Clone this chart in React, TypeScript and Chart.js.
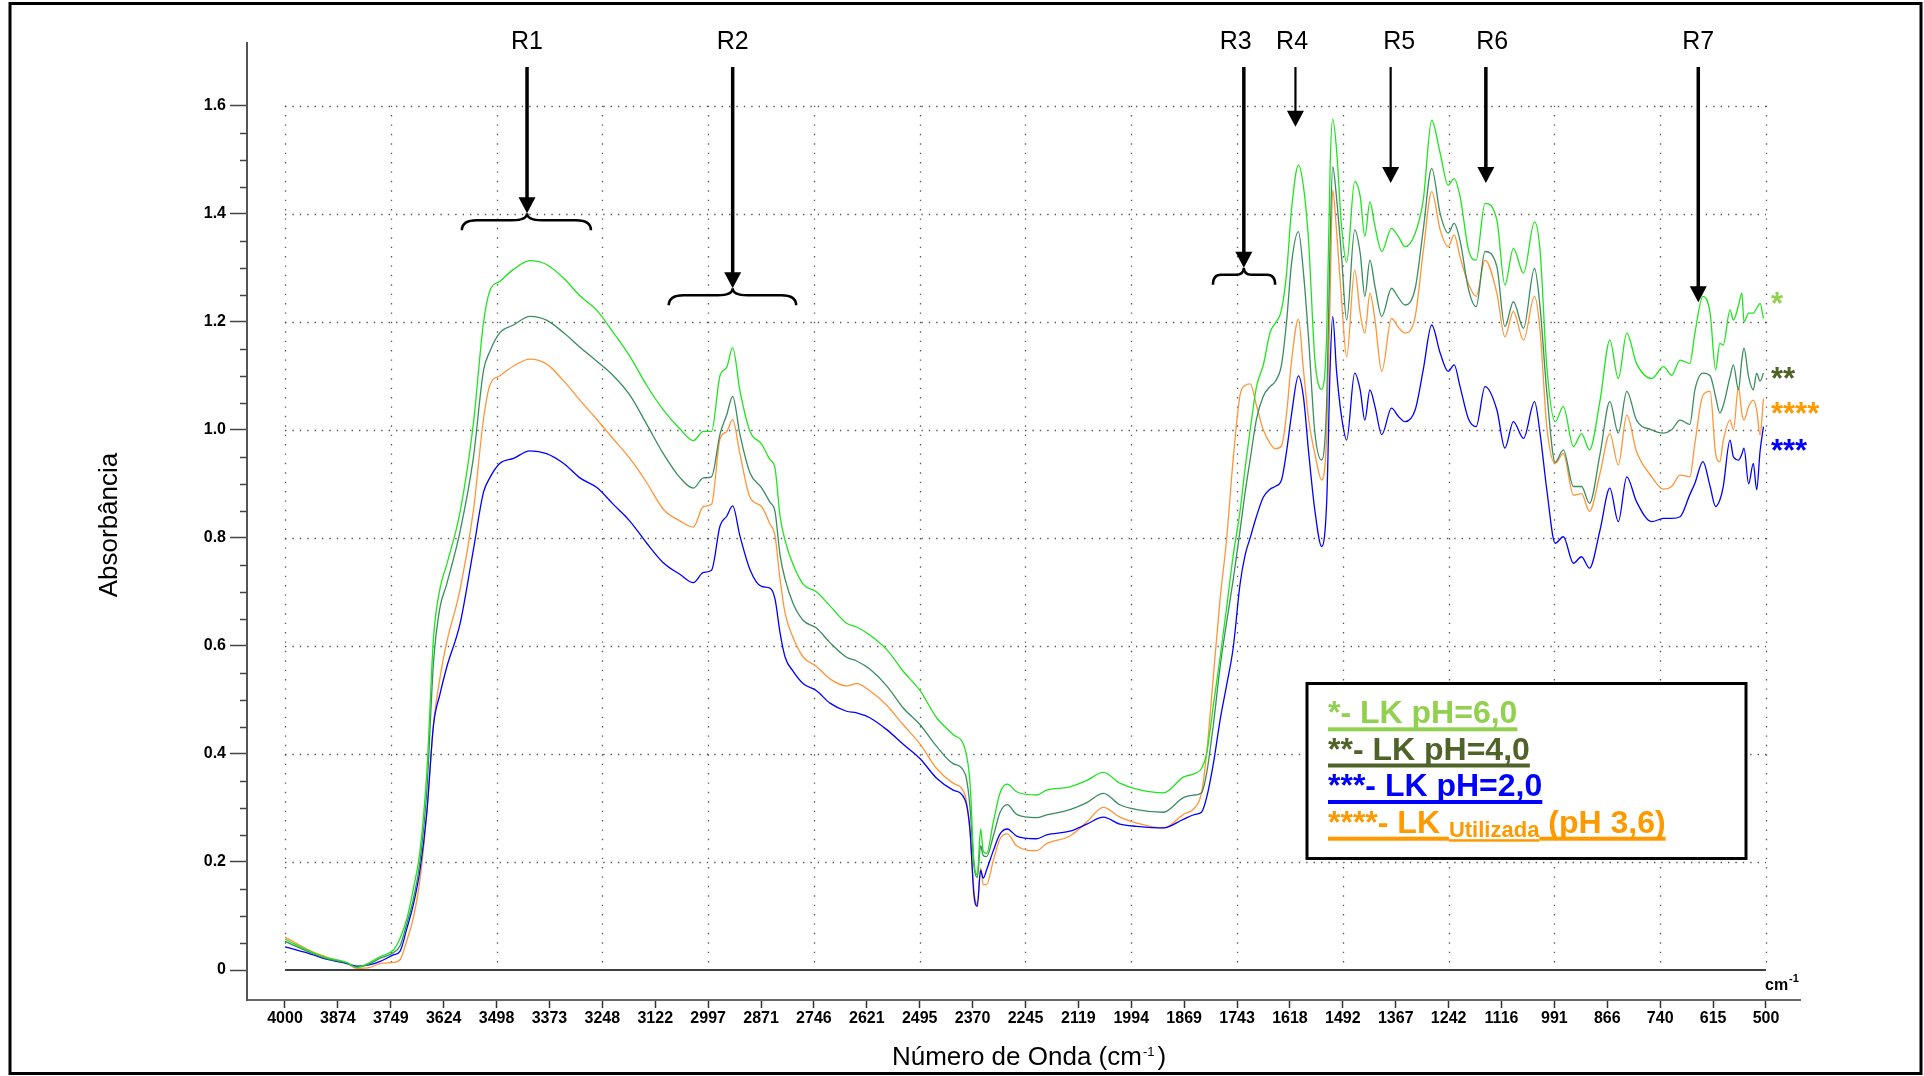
import React, { useEffect, useRef } from 'react';
import { Chart, registerables } from 'chart.js';

Chart.register(...registerables);

// ---------- DATA ----------
const wavenumbers = [
  4000, 3933, 3902, 3854, 3831, 3799, 3775, 3744, 3728, 3712, 3697, 3681, 3665, 3649, 3634, 3618, 3586, 3555, 3531, 3516,
  3492, 3460, 3421, 3382, 3342, 3303, 3263, 3224, 3185, 3145, 3106, 3066, 3035, 3011, 2992, 2972, 2956, 2942, 2925, 2901, 2874,
  2854, 2842, 2830, 2818, 2799, 2775, 2744, 2712, 2673, 2649, 2618, 2578, 2539, 2499, 2460, 2421, 2393, 2381, 2372, 2364,
  2356, 2350, 2342, 2326, 2310, 2293, 2271, 2224, 2200, 2145, 2105, 2066, 2027, 1987, 1924, 1877, 1849, 1834, 1822, 1806,
  1790, 1775, 1759, 1743, 1731,
  1719, 1704, 1688, 1672, 1660, 1645, 1633, 1621, 1605, 1593, 1581, 1566, 1550, 1538, 1530, 1524, 1515, 1503, 1491, 1472,
  1459, 1448, 1436, 1424, 1408, 1385, 1369, 1353, 1329, 1310, 1290, 1270, 1251, 1237, 1223, 1203, 1185, 1164, 1136, 1117,
  1097, 1073, 1047, 1034, 1018, 998, 979, 955, 936, 917, 892, 869, 849, 829, 806, 770, 742, 723, 703, 680,
  668, 649, 632, 619, 609, 601, 585, 577, 565, 557, 552, 541, 530, 522, 514, 506,
];

const absorbancePH6 = [
  0.057, 0.032, 0.023, 0.014, 0.005, 0.014, 0.025, 0.037, 0.059, 0.095, 0.149, 0.22, 0.364, 0.615, 0.705, 0.75, 0.849, 1.01, 1.198, 1.257,
  1.275, 1.297, 1.313, 1.306, 1.281, 1.248, 1.221, 1.18, 1.136, 1.082, 1.037, 1.001, 0.98, 0.997, 0.997, 1.1, 1.116, 1.152, 1.073, 0.997, 0.974,
  0.945, 0.929, 0.84, 0.795, 0.75, 0.714, 0.70, 0.674, 0.642, 0.635, 0.62, 0.593, 0.553, 0.517, 0.467, 0.436, 0.409, 0.346, 0.203, 0.176,
  0.261, 0.221, 0.216, 0.274, 0.328, 0.344, 0.33, 0.324, 0.333, 0.339, 0.351, 0.366, 0.346, 0.335, 0.328, 0.357, 0.364, 0.373, 0.40, 0.49,
  0.579, 0.669, 0.768, 0.849, 0.929,
  1.0, 1.08, 1.12, 1.18, 1.197, 1.222, 1.29, 1.41, 1.49, 1.45, 1.35, 1.13, 1.075, 1.18, 1.49, 1.575, 1.52, 1.376, 1.31, 1.46,
  1.432, 1.358, 1.422, 1.376, 1.33, 1.373, 1.358, 1.339, 1.364, 1.425, 1.573, 1.512, 1.453, 1.465, 1.432, 1.333, 1.314, 1.419, 1.388, 1.268,
  1.336, 1.29, 1.385, 1.333, 1.117, 1.015, 1.043, 0.969, 0.993, 0.963, 1.055, 1.166, 1.095, 1.179, 1.123, 1.095, 1.117, 1.101, 1.129, 1.123,
  1.179, 1.247, 1.216, 1.111, 1.16, 1.157, 1.222, 1.203, 1.23, 1.253, 1.2, 1.216, 1.216, 1.225, 1.234, 1.206,
];

const absorbancePH4 = [
  0.053, 0.03, 0.021, 0.013, 0.005, 0.012, 0.022, 0.032, 0.045, 0.086, 0.13, 0.2, 0.328, 0.57, 0.67, 0.714, 0.813, 0.947, 1.109, 1.145,
  1.18, 1.194, 1.21, 1.203, 1.18, 1.153, 1.127, 1.1, 1.064, 1.01, 0.956, 0.911, 0.892, 0.911, 0.913, 0.992, 1.028, 1.062, 0.992, 0.92, 0.893,
  0.866, 0.849, 0.768, 0.723, 0.678, 0.647, 0.633, 0.606, 0.579, 0.572, 0.557, 0.526, 0.485, 0.454, 0.414, 0.382, 0.364, 0.301, 0.194, 0.171,
  0.23, 0.212, 0.21, 0.248, 0.292, 0.306, 0.288, 0.282, 0.287, 0.297, 0.31, 0.327, 0.306, 0.297, 0.292, 0.319, 0.324, 0.328, 0.364, 0.454,
  0.562, 0.642, 0.723, 0.813, 0.884,
  0.945, 1.02, 1.062, 1.08, 1.089, 1.12, 1.2, 1.31, 1.367, 1.29, 1.17, 0.994, 0.944, 1.055, 1.35, 1.487, 1.43, 1.32, 1.203, 1.37,
  1.327, 1.247, 1.314, 1.265, 1.21, 1.262, 1.245, 1.231, 1.262, 1.37, 1.484, 1.40, 1.364, 1.382, 1.35, 1.26, 1.228, 1.33, 1.302, 1.191,
  1.237, 1.188, 1.299, 1.228, 1.07, 0.94, 0.963, 0.895, 0.895, 0.864, 0.956, 1.052, 0.994, 1.071, 1.018, 1.0, 0.994, 1.0, 1.018, 1.01,
  1.074, 1.105, 1.1, 1.061, 1.031, 1.045, 1.098, 1.12, 1.074, 1.13, 1.151, 1.098, 1.074, 1.105, 1.09, 1.105,
];

const absorbancePH2 = [
  0.043, 0.028, 0.02, 0.012, 0.007, 0.01, 0.016, 0.028, 0.035, 0.077, 0.12, 0.185, 0.29, 0.454, 0.51, 0.56, 0.642, 0.777, 0.884, 0.911,
  0.938, 0.947, 0.961, 0.956, 0.938, 0.911, 0.893, 0.862, 0.831, 0.79, 0.754, 0.732, 0.717, 0.736, 0.74, 0.822, 0.84, 0.859, 0.804, 0.741, 0.71,
  0.707, 0.687, 0.624, 0.579, 0.553, 0.53, 0.517, 0.494, 0.479, 0.476, 0.467, 0.445, 0.418, 0.391, 0.355, 0.333, 0.315, 0.257, 0.14, 0.118,
  0.185, 0.17, 0.185, 0.221, 0.252, 0.261, 0.248, 0.243, 0.25, 0.257, 0.27, 0.283, 0.27, 0.266, 0.263, 0.279, 0.288, 0.292, 0.319, 0.382,
  0.463, 0.526, 0.597, 0.714, 0.768,
  0.80, 0.84, 0.875, 0.89, 0.895, 0.907, 0.96, 1.03, 1.1, 1.06, 0.96, 0.85, 0.784, 0.87, 1.117, 1.21, 1.11, 1.024, 0.981, 1.105,
  1.074, 1.018, 1.074, 1.043, 0.991, 1.04, 1.025, 1.015, 1.037, 1.111, 1.194, 1.142, 1.108, 1.12, 1.08, 1.02, 1.006, 1.08, 1.037, 0.966,
  1.015, 0.984, 1.052, 0.994, 0.889, 0.79, 0.802, 0.753, 0.765, 0.744, 0.815, 0.892, 0.83, 0.913, 0.867, 0.83, 0.836, 0.836, 0.839, 0.88,
  0.901, 0.941, 0.895, 0.858, 0.87, 0.895, 0.981, 0.95, 0.944, 0.955, 0.966, 0.9, 0.938, 0.889, 0.96, 1.006,
];

const absorbanceUsed = [
  0.061, 0.033, 0.024, 0.013, 0.003, 0.005, 0.012, 0.014, 0.019, 0.055, 0.095, 0.167, 0.29, 0.454, 0.54, 0.606, 0.705, 0.849, 1.019, 1.082,
  1.1, 1.118, 1.131, 1.122, 1.091, 1.055, 1.019, 0.983, 0.947, 0.902, 0.853, 0.831, 0.82, 0.858, 0.862, 0.983, 0.997, 1.019, 0.956, 0.875, 0.858,
  0.826, 0.804, 0.723, 0.66, 0.615, 0.579, 0.562, 0.539, 0.526, 0.53, 0.517, 0.49, 0.454, 0.418, 0.373, 0.346, 0.324, 0.257, 0.149, 0.122,
  0.189, 0.158, 0.158, 0.203, 0.243, 0.252, 0.23, 0.221, 0.234, 0.248, 0.274, 0.301, 0.283, 0.272, 0.263, 0.288, 0.301, 0.328, 0.40, 0.544,
  0.687, 0.795, 0.947, 1.064, 1.082,
  1.085, 1.045, 1.0, 0.975, 0.965, 0.97, 1.03, 1.129, 1.205, 1.11, 1.02, 0.955, 0.907, 0.994, 1.25, 1.444, 1.37, 1.24, 1.135, 1.296,
  1.216, 1.179, 1.253, 1.203, 1.108, 1.206, 1.19, 1.179, 1.21, 1.33, 1.441, 1.37, 1.339, 1.361, 1.32, 1.27, 1.247, 1.314, 1.253, 1.172,
  1.219, 1.166, 1.247, 1.185, 1.006, 0.938, 0.956, 0.879, 0.882, 0.849, 0.92, 0.993, 0.935, 1.027, 0.96, 0.913, 0.89, 0.895, 0.916, 0.913,
  0.975, 1.064, 1.071, 0.956, 0.941, 0.98, 1.018, 1.0, 1.08, 1.03, 1.018, 1.043, 1.055, 1.037, 0.99, 1.058,
];

const xTickValues = [4000, 3875, 3750, 3625, 3500, 3375, 3250, 3125, 3000, 2875, 2750, 2625, 2500, 2375, 2250, 2125, 2000, 1875, 1750, 1625, 1500, 1375, 1250, 1125, 1000, 875, 750, 625, 500];
const xTickLabels = ['4000', '3874', '3749', '3624', '3498', '3373', '3248', '3122', '2997', '2871', '2746', '2621', '2495', '2370', '2245', '2119', '1994', '1869', '1743', '1618', '1492', '1367', '1242', '1116', '991', '866', '740', '615', '500'];
const xGridValues = [4000, 3750, 3500, 3250, 3000, 2750, 2500, 2250, 2000, 1750, 1500, 1250, 1000, 750, 500];
const yTickValues = [0, 0.2, 0.4, 0.6, 0.8, 1.0, 1.2, 1.4, 1.6];
const yTickLabels = ['0', '0.2', '0.4', '0.6', '0.8', '1.0', '1.2', '1.4', '1.6'];
const regionLabels = ['R1', 'R2', 'R3', 'R4', 'R5', 'R6', 'R7'];
const seriesMarks = ['*', '**', '***', '****'];
const seriesNames = ['- LK pH=6,0', '- LK pH=4,0', '- LK pH=2,0', '- LK '];
const usedSubscript = 'Utilizada';
const usedSuffix = ' (pH 3,6)';

const FONT = '"Liberation Sans", Arial, sans-serif';

// ---------- DECORATION PLUGIN ----------
const decor = {
  id: 'ftirDecor',
  beforeDraw(chart: any) {
    const ctx = chart.ctx;
    ctx.save();
    ctx.fillStyle = '#fff';
    ctx.fillRect(0, 0, chart.width, chart.height);
    ctx.restore();
  },
  beforeDatasetsDraw(chart: any) {
    const ctx = chart.ctx;
    const xs = chart.scales.x;
    const ys = chart.scales.y;
    const xL = xs.getPixelForValue(4000);
    const xR = xs.getPixelForValue(500);
    const y0 = ys.getPixelForValue(0);
    const yT = ys.getPixelForValue(1.6);
    ctx.save();
    ctx.strokeStyle = 'rgba(70,70,70,0.9)';
    ctx.lineWidth = 1.3;
    ctx.setLineDash([1.4, 6]);
    yTickValues.forEach((v) => {
      if (v === 0) return;
      const y = Math.round(ys.getPixelForValue(v)) + 0.5;
      ctx.beginPath();
      ctx.moveTo(xL, y);
      ctx.lineTo(xR, y);
      ctx.stroke();
    });
    ctx.setLineDash([1.4, 8]);
    xGridValues.forEach((v) => {
      const x = Math.round(xs.getPixelForValue(v)) + 0.5;
      ctx.beginPath();
      ctx.moveTo(x, yT);
      ctx.lineTo(x, y0);
      ctx.stroke();
    });
    ctx.setLineDash([]);
    ctx.strokeStyle = '#000';
    ctx.lineWidth = 1.5;
    ctx.beginPath();
    ctx.moveTo(xL, y0);
    ctx.lineTo(xR, y0);
    ctx.stroke();
    ctx.restore();
  },
  afterDraw(chart: any) {
    const ctx = chart.ctx;
    const xs = chart.scales.x;
    const ys = chart.scales.y;
    const area = chart.chartArea;
    ctx.save();

    // minor ticks on y axis
    ctx.strokeStyle = '#444';
    ctx.lineWidth = 1.5;
    for (let k = 1; k < 32; k++) {
      if (k % 4 === 0) continue;
      const y = Math.round(ys.getPixelForValue(k * 0.05)) + 0.5;
      ctx.beginPath();
      ctx.moveTo(area.left - 7, y);
      ctx.lineTo(area.left, y);
      ctx.stroke();
    }

    // outer frame
    ctx.strokeStyle = '#000';
    ctx.lineWidth = 3;
    ctx.strokeRect(10, 3.5, 1911, 1070);

    // y axis title
    ctx.fillStyle = '#000';
    ctx.font = `26px ${FONT}`;
    ctx.save();
    ctx.translate(117, 525);
    ctx.rotate(-Math.PI / 2);
    ctx.textAlign = 'center';
    ctx.textBaseline = 'alphabetic';
    ctx.fillText('Absorbância', 0, 0);
    ctx.restore();

    // x axis title with superscript
    ctx.textAlign = 'left';
    ctx.textBaseline = 'alphabetic';
    const mainT = 'Número de Onda (cm';
    ctx.font = `26px ${FONT}`;
    const w1 = ctx.measureText(mainT).width;
    const wClose = ctx.measureText(')').width;
    ctx.font = `13px ${FONT}`;
    const wSup = ctx.measureText('-1').width;
    const total = w1 + wSup + 4 + wClose;
    const tx = 1029 - total / 2;
    const tb = 1065;
    ctx.font = `26px ${FONT}`;
    ctx.fillText(mainT, tx, tb);
    ctx.font = `13px ${FONT}`;
    ctx.fillText('-1', tx + w1 + 1, tb - 9);
    ctx.font = `26px ${FONT}`;
    ctx.fillText(')', tx + w1 + wSup + 4, tb);

    // cm-1 unit near the x axis end
    ctx.font = `bold 16px ${FONT}`;
    ctx.fillText('cm', 1765, 990);
    ctx.font = `bold 11px ${FONT}`;
    ctx.fillText('-1', 1789, 982);

    // region arrows / braces / labels
    const marks = [
      { t: 3428, a: 3428, tip: 1.401, lw: 3.5, br: [3582, 3277], r: 15 },
      { t: 2942, a: 2942, tip: 1.262, lw: 3.5, br: [3093, 2792], r: 15 },
      { t: 1753, a: 1734, tip: 1.300, lw: 3.5, br: [1807, 1660], r: 8 },
      { t: 1620, a: 1612, tip: 1.561, lw: 2.2, br: null, r: 0 },
      { t: 1367, a: 1387, tip: 1.457, lw: 2.2, br: null, r: 0 },
      { t: 1147, a: 1162, tip: 1.457, lw: 3.5, br: null, r: 0 },
      { t: 660, a: 660, tip: 1.236, lw: 3.5, br: null, r: 0 },
    ];
    ctx.font = `25px ${FONT}`;
    ctx.textAlign = 'center';
    ctx.fillStyle = '#000';
    ctx.strokeStyle = '#000';
    marks.forEach((m, i) => {
      ctx.fillText(regionLabels[i], xs.getPixelForValue(m.t), 49);
      const x = xs.getPixelForValue(m.a);
      const yTip = ys.getPixelForValue(m.tip);
      const headH = 16;
      const headW = 17;
      ctx.lineWidth = m.lw;
      ctx.beginPath();
      ctx.moveTo(x, 67);
      ctx.lineTo(x, yTip - headH + 2);
      ctx.stroke();
      ctx.beginPath();
      ctx.moveTo(x - headW / 2, yTip - headH);
      ctx.lineTo(x + headW / 2, yTip - headH);
      ctx.lineTo(x, yTip);
      ctx.closePath();
      ctx.fill();
      if (m.br) {
        const x1 = xs.getPixelForValue(m.br[0]);
        const x2 = xs.getPixelForValue(m.br[1]);
        const yArm = yTip + 7;
        const yEnd = yTip + 17;
        const r = m.r;
        ctx.lineWidth = 2.5;
        ctx.beginPath();
        ctx.moveTo(x1, yEnd);
        ctx.quadraticCurveTo(x1, yArm, x1 + r, yArm);
        ctx.lineTo(x - r, yArm);
        ctx.quadraticCurveTo(x, yArm, x, yTip);
        ctx.quadraticCurveTo(x, yArm, x + r, yArm);
        ctx.lineTo(x2 - r, yArm);
        ctx.quadraticCurveTo(x2, yArm, x2, yEnd);
        ctx.stroke();
      }
    });

    // series end markers (stars)
    const starColors = ['#92D050', '#4F6228', '#0000FF', '#FF9900'];
    const starY = [1.238, 1.10, 0.966, 1.035];
    ctx.font = `bold 31px ${FONT}`;
    ctx.textAlign = 'left';
    starY.forEach((v, i) => {
      ctx.fillStyle = starColors[i];
      ctx.fillText(seriesMarks[i], xs.getPixelForValue(500) + 5, ys.getPixelForValue(v) + 13);
    });

    // legend box
    const bx = 1307, by = 683.5, bw = 439, bh = 175;
    ctx.fillStyle = '#fff';
    ctx.fillRect(bx, by, bw, bh);
    ctx.strokeStyle = '#000';
    ctx.lineWidth = 3;
    ctx.strokeRect(bx, by, bw, bh);
    const lx = 1328;
    const baselines = [723.3, 759.5, 796, 832.7];
    for (let i = 0; i < 4; i++) {
      ctx.fillStyle = starColors[i];
      ctx.font = `bold 32px ${FONT}`;
      const txt = seriesMarks[i] + seriesNames[i];
      ctx.fillText(txt, lx, baselines[i]);
      const w = ctx.measureText(txt).width;
      ctx.fillRect(lx, baselines[i] + 4, w, 4);
      if (i === 3) {
        let cx = lx + w;
        ctx.font = `bold 22px ${FONT}`;
        ctx.fillText(usedSubscript, cx, baselines[i] + 4);
        const ws = ctx.measureText(usedSubscript).width;
        ctx.fillRect(cx, baselines[i] + 6.5, ws, 2.5);
        cx += ws;
        ctx.font = `bold 32px ${FONT}`;
        ctx.fillText(usedSuffix, cx, baselines[i]);
        const wf = ctx.measureText(usedSuffix).width;
        ctx.fillRect(cx, baselines[i] + 4, wf, 4);
      }
    }
    ctx.restore();
  },
};

export default function App() {
  const ref = useRef<HTMLCanvasElement>(null);
  useEffect(() => {
    const canvas = ref.current;
    if (!canvas) return;
    const mk = (ys: number[]) => wavenumbers.map((x, i) => ({ x, y: ys[i] }));
    const common = { pointRadius: 0, borderWidth: 1.3, fill: false, cubicInterpolationMode: 'monotone' as const };
    const chart = new Chart(canvas, {
      type: 'line',
      data: {
        datasets: [
          { label: 'LK pH=6,0', data: mk(absorbancePH6), borderColor: '#1fe41f', ...common },
          { label: 'LK pH=4,0', data: mk(absorbancePH4), borderColor: '#3a8d5e', ...common },
          { label: 'LK pH=2,0', data: mk(absorbancePH2), borderColor: '#0000ff', ...common },
          { label: 'LK Utilizada (pH 3,6)', data: mk(absorbanceUsed), borderColor: '#ff9538', ...common },
        ],
      },
      options: {
        responsive: false,
        animation: false,
        devicePixelRatio: 1,
        layout: { padding: { top: 43, right: 124, left: 0, bottom: 0 } },
        plugins: { legend: { display: false }, tooltip: { enabled: false } },
        scales: {
          x: {
            type: 'linear',
            reverse: true,
            min: 419.6,
            max: 4089.8,
            afterBuildTicks: (s: any) => {
              s.ticks = xTickValues.map((v) => ({ value: v }));
            },
            afterFit: (s: any) => {
              s.height = 76;
            },
            ticks: {
              autoSkip: false,
              maxRotation: 0,
              minRotation: 0,
              padding: 1,
              color: '#000',
              font: { family: FONT, size: 16, weight: 'bold' },
              callback: (_v: any, i: number) => xTickLabels[i],
            },
            grid: { drawOnChartArea: false, drawTicks: true, tickLength: 8, tickColor: '#333', tickWidth: 1.5 },
            border: { display: true, color: '#666', width: 2 },
          },
          y: {
            type: 'linear',
            min: -0.0555,
            max: 1.716,
            afterBuildTicks: (s: any) => {
              s.ticks = yTickValues.map((v) => ({ value: v }));
            },
            afterFit: (s: any) => {
              s.width = 247;
            },
            ticks: {
              padding: 4,
              color: '#000',
              font: { family: FONT, size: 16, weight: 'bold' },
              callback: (_v: any, i: number) => yTickLabels[i],
            },
            grid: { drawOnChartArea: false, drawTicks: true, tickLength: 17, tickColor: '#444', tickWidth: 1.5 },
            border: { display: true, color: '#555', width: 2 },
          },
        },
      } as any,
      plugins: [decor],
    });
    return () => chart.destroy();
  }, []);
  return (
    <div style={{ position: 'fixed', left: 0, top: 0, width: 1924, height: 1076, background: '#fff' }}>
      <canvas ref={ref} width={1924} height={1076} style={{ display: 'block' }} />
    </div>
  );
}
